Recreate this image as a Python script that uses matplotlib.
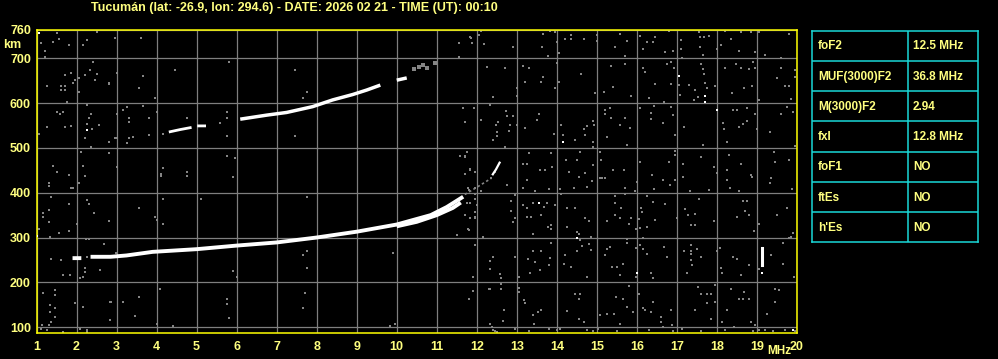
import numpy as np
import matplotlib
matplotlib.use("Agg")
import matplotlib.pyplot as plt

# ---------------- data ----------------
title_text = "Tucumán (lat: -26.9, lon: 294.6) - DATE: 2026 02 21 - TIME (UT): 00:10"
freq_ticks = list(range(1, 21))
height_ticks = [100, 200, 300, 400, 500, 600, 700]
height_top = 763.6
height_top_label = "760"
height_bottom = 87

# F2 trace (ordinary), nan = gap
o_freq = [1.9, 2.12, np.nan, 2.35, 2.85, 3.25, 3.9, 5.0, 6.0, 7.0, 8.0, 9.0, 10.0, 10.85, 11.25, 11.66]
o_height = [254, 254, np.nan, 257, 257, 260, 268, 274, 282, 289, 300, 313, 329, 350, 368, 391]
# lower (extraordinary-like) branch that thickens the trace at the top end
x_freq = [10.0, 10.5, 11.0, 11.4, 11.6]
x_height = [325, 335, 350, 366, 378]
# faint continuation above the cusp
cusp_freq = [11.7, 12.0, 12.36]
cusp_height = [396, 412, 432]
cusp_white_freq = [12.4, 12.48, 12.57]
cusp_white_height = [441, 452, 467]

# second-hop trace
hop_dot_freq = [3.0, 3.3, 3.42, 3.82]
hop_dot_height = [521, 522, 525, 528]
hop_seg_freq = [4.34, 4.6, 4.84, np.nan, 5.05, 5.2]
hop_seg_height = [536, 541, 545, np.nan, 549, 549]
hop_freq = [6.09, 6.75, 7.25, 7.9, 8.4, 8.9, 9.25, 9.59, np.nan, 10.0, 10.25]
hop_height = [564, 573, 579, 592, 607, 619, 629, 640, np.nan, 651, 656]
hop_tail_freq = [10.42, 10.55, 10.65, 10.75, 10.96]
hop_tail_height = [676, 680, 685, 679, 689]

# vertical spike near 19 MHz
spike_freq = [19.13, 19.13]
spike_height = [238, 276]

# isolated white echoes
white_freq = [17.05, 17.71, 17.71, 18.0, 14.15, 13.55, 14.5, 16.0, 19.9, 1.07, 2.27, 1.02, 19.13]
white_height = [661, 616, 603, 585, 512, 378, 298, 221, 93, 757, 540, 303, 221]

# grey noise echoes
noise_freq = [
    11.85, 12.05, 12.10, 12.17, 12.90, 13.65, 13.63, 13.77, 13.82, 13.96, 14.0, 14.05, 14.21, 14.35, 14.35,
    14.67, 15.0, 15.0, 15.46, 15.57, 15.75, 15.71, 16.07, 16.15, 16.25, 16.40, 16.46, 16.71, 16.80, 16.9,
    17.1, 17.1, 17.56, 17.57, 17.67, 17.8, 17.57, 17.65, 18.0, 18.1, 18.21, 18.35, 18.55, 18.61, 18.84,
    18.96, 19.05, 19.21, 19.8,
    12.25, 12.71, 12.4, 13.0, 13.0, 13.15, 13.3, 13.21, 13.6, 13.65, 13.96, 14.05, 14.0, 14.61, 14.96,
    15.17, 15.4, 15.36, 15.71, 15.85, 16.15, 16.21, 16.31, 16.46, 16.67, 16.75, 16.85, 16.85, 16.92, 17.05,
    17.07, 17.13, 17.3, 17.46, 17.42, 17.52, 17.6, 17.65, 17.67, 17.71, 17.74, 17.96, 18.21, 18.38, 18.48,
    18.59, 18.67, 18.8, 18.88, 18.9, 18.96, 19.05, 19.5, 19.61, 19.61, 19.71, 19.8, 19.85, 19.96, 19.96,
    11.65, 11.71, 11.92, 12.1, 12.32, 12.49, 12.52, 12.5, 12.5, 12.74, 12.75, 12.8, 12.84, 12.9, 13.0,
    12.4, 12.71, 13.21, 13.55, 13.5, 13.92, 14.1, 14.15, 14.46, 14.67, 14.71, 14.75, 14.9, 14.92, 14.9,
    14.9, 15.21, 15.21, 15.36, 15.32, 15.25, 15.57, 15.71, 15.84, 15.75, 16.09, 16.35, 16.35, 16.42, 16.65,
    16.85, 16.9, 16.96, 17.17, 17.65, 18.15, 18.17, 18.25, 18.4, 18.5, 18.55, 18.65, 18.75, 18.75, 18.96,
    19.0, 19.32, 19.61, 19.75, 19.9, 19.96,
    11.75, 11.84, 11.96, 11.71, 12.46, 13.15, 13.25, 13.3, 13.59, 13.71, 13.85, 13.88, 14.24, 14.3, 14.5,
    14.59, 14.71, 14.9, 15.09, 15.1, 15.13, 15.21, 15.4, 15.67, 16.09, 16.38, 16.8, 16.96, 16.96, 17.15,
    17.6, 17.92, 18.0, 18.25, 18.3, 18.61, 18.84, 19.42, 19.46, 19.8,
    11.77, 11.96, 12.1, 12.36, 12.75, 13.15, 13.25, 13.46, 13.8, 14.07, 14.42, 14.55, 14.75, 14.88, 15.09,
    15.21, 15.7, 15.96, 16.0, 16.42, 16.65, 16.82, 16.96, 17.15, 17.32, 17.8, 18.25, 18.32, 18.55, 18.88,
    19.34, 19.32, 19.88,
    11.75, 11.96, 11.96, 11.71, 11.77, 11.84, 11.96, 12.85, 12.85, 12.9, 12.96, 12.96, 13.15, 13.25, 13.25,
    13.35, 13.4, 13.4, 13.6, 13.67, 13.75, 13.77, 13.85, 13.85, 13.96, 14.1, 14.25, 14.25, 14.46, 14.5,
    14.55, 14.71, 14.8, 14.85, 15.25, 15.45, 15.45, 15.46, 15.59, 15.61, 15.71, 15.8, 15.85, 15.98, 16.1,
    16.13, 16.05, 16.09, 16.15, 16.25, 16.25, 16.4, 16.46, 16.7, 16.99, 17.21, 17.27, 17.34, 17.46, 17.46,
    17.55, 17.92, 18.5, 18.65, 18.75, 18.71, 18.8, 19.05, 18.92, 19.5, 19.75, 19.84, 19.9,
    11.96, 11.9, 12.15, 12.4, 12.32, 12.32, 12.57, 12.6, 12.96, 13.05, 13.27, 13.34, 13.4, 13.46, 13.6,
    13.59, 13.8, 13.82, 13.85, 14.21, 14.19, 14.35, 14.5, 14.59, 14.63, 14.75, 14.8, 14.85, 15.25, 15.21,
    15.32, 15.38, 15.5, 15.59, 15.65, 15.75, 15.99, 15.98, 16.09, 16.15, 16.24, 16.35, 16.4, 16.67, 16.75,
    17.17, 17.25, 17.34, 17.38, 17.49, 17.59, 17.99, 18.07, 18.09, 18.13, 18.4, 18.5, 18.6, 18.8, 19.05,
    19.34, 19.65, 19.65, 19.8, 19.92, 17.34, 17.34, 17.34, 15.75,
    11.9, 11.8, 12.32, 12.6, 12.6, 12.67, 12.65, 12.38, 12.4, 12.46, 12.96, 13.05, 13.05, 13.19, 13.21,
    13.4, 13.52, 13.6, 13.44, 13.8, 14.07, 14.25, 14.55, 14.59, 14.46, 14.55, 14.67, 14.75, 15.03, 15.07,
    15.25, 15.42, 15.49, 15.57, 15.65, 15.75, 15.8, 15.9, 16.05, 16.15, 16.21, 16.35, 16.4, 16.6, 16.6,
    16.65, 16.85, 16.88, 17.13, 17.46, 17.52, 17.59, 17.74, 17.84, 17.75, 17.85, 17.96, 17.96, 18.13, 18.25,
    18.34, 18.42, 18.55, 18.65, 18.8, 18.67, 18.85, 18.96, 19.05, 19.21, 19.25, 19.46, 19.55, 19.46, 19.71,
    19.96, 13.3, 14.0, 14.9, 15.5, 16.3, 16.9, 17.6, 18.2, 18.9, 19.4,
    1.1, 1.21, 1.21, 1.25, 1.4, 1.5, 1.55, 1.8, 2.15, 2.27, 2.4, 2.5, 2.96, 1.71, 1.85,
    1.9, 1.96, 2.07, 1.61, 1.71, 1.61, 1.71, 2.05, 2.21, 2.34, 2.5, 2.81, 3.0, 2.45, 1.02,
    1.75, 1.25, 1.5, 1.59, 1.65, 1.71, 1.85, 2.25, 2.32, 2.35, 2.25, 2.38, 2.56, 2.8, 2.96,
    2.21, 2.1, 2.36, 1.05, 2.8, 3.0, 1.4, 1.5, 1.8, 2.17, 2.21, 2.05, 1.92, 1.85, 1.32,
    1.32, 1.02, 1.15, 1.15, 1.3, 1.32, 1.35, 1.81, 1.82, 2.25, 2.3, 2.44, 2.8, 2.0, 1.57,
    1.05, 1.34, 2.24, 2.32, 2.69, 1.35, 1.6, 2.21, 2.21, 2.09, 2.15, 1.65, 1.84, 1.15, 1.46,
    1.46, 1.34, 1.34, 1.46, 1.46, 1.35, 1.3, 1.13, 1.11, 1.25, 1.65, 1.96, 2.15, 2.27, 2.84,
    2.84, 2.25, 2.99, 2.59,
    4.09, 4.0, 4.4, 3.46, 3.55, 3.15, 2.85, 5.75, 5.75, 5.8, 7.7, 7.65, 9.84, 9.96, 11.8,
    11.9, 12.3, 12.34, 12.38, 12.5, 2.25, 2.09, 1.65,
    4.17, 5.1, 3.56, 3.96, 4.0, 4.15, 5.9, 6.0, 7.75, 7.75, 7.75, 7.67, 9.9, 11.5, 11.71,
    11.8, 11.96, 11.96, 11.8, 11.96, 11.84, 12.0,
    2.8, 3.65, 3.57, 3.96, 3.65, 3.25, 3.15, 3.0, 3.32, 3.32, 3.8, 4.02, 4.46, 5.8, 5.75,
    5.75, 5.75, 5.59, 4.75, 4.17, 3.27, 7.46, 7.75, 7.65, 7.46, 10.42, 10.65, 10.75,
    11.55, 11.55, 11.84, 11.88, 2.17, 3.6,
    5.77, 7.46, 4.15, 4.1, 4.1, 4.75, 4.75, 5.77, 5.96, 5.9, 11.75, 11.71, 11.57, 11.82, 11.71,
]
noise_height = [
    746, 752, 761, 731, 725, 753, 724, 706, 761, 758, 737, 711, 743, 752, 743,
    743, 752, 738, 725, 755, 738, 706, 750, 721, 737, 737, 747, 713, 761, 716,
    741, 721, 758, 747, 747, 750, 725, 707, 721, 729, 761, 743, 716, 758, 758,
    713, 759, 707, 753,
    681, 679, 614, 633, 616, 683, 679, 648, 648, 657, 634, 648, 689, 664, 622,
    625, 636, 683, 686, 616, 679, 670, 612, 642, 603, 686, 692, 642, 679, 640,
    618, 701, 640, 628, 607, 614, 686, 677, 664, 644, 633, 638, 679, 622, 686,
    679, 634, 676, 639, 691, 679, 607, 655, 700, 679, 638, 638, 610, 674, 657,
    590, 558, 588, 563, 596, 551, 557, 536, 527, 582, 570, 537, 551, 570, 551,
    517, 502, 545, 575, 562, 532, 551, 529, 517, 543, 529, 549, 560, 551, 512,
    503, 584, 575, 566, 590, 524, 551, 566, 545, 506, 590, 578, 564, 593, 555,
    592, 573, 529, 547, 506, 555, 543, 514, 585, 585, 547, 554, 561, 590, 576,
    543, 535, 576, 591, 581, 505,
    491, 450, 447, 480, 447, 465, 465, 488, 450, 450, 488, 458, 473, 447, 473,
    491, 443, 462, 491, 473, 432, 432, 450, 450, 469, 439, 469, 493, 484, 465,
    480, 458, 443, 450, 485, 465, 439, 491, 469, 473,
    410, 410, 404, 433, 417, 410, 428, 404, 408, 408, 410, 436, 413, 426, 433,
    433, 410, 404, 424, 408, 428, 417, 428, 436, 404, 406, 428, 410, 404, 436,
    433, 421, 408,
    377, 386, 356, 350, 320, 344, 343, 381, 359, 334, 344, 395, 372, 365, 346,
    346, 376, 307, 350, 369, 376, 324, 320, 329, 372, 396, 365, 324, 365, 313,
    307, 344, 337, 302, 337, 393, 378, 350, 343, 365, 396, 331, 343, 319, 366,
    356, 341, 322, 298, 393, 324, 380, 339, 374, 343, 363, 350, 328, 328, 352,
    386, 337, 346, 381, 381, 359, 350, 331, 314, 350, 366, 302, 309,
    283, 212, 302, 257, 247, 230, 218, 210, 257, 212, 252, 220, 270, 246, 270,
    227, 238, 255, 287, 261, 242, 235, 270, 294, 282, 212, 285, 272, 274, 262,
    279, 235, 235, 216, 242, 287, 277, 212, 283, 274, 264, 220, 210, 279, 257,
    270, 220, 264, 238, 274, 257, 270, 277, 231, 220, 257, 253, 216, 238, 230,
    261, 240, 287, 300, 212, 283, 270, 250, 296,
    180, 163, 186, 186, 197, 138, 113, 101, 93, 91, 96, 179, 188, 160, 153,
    127, 133, 138, 108, 96, 96, 136, 118, 175, 173, 163, 112, 93, 96, 127,
    130, 130, 168, 108, 163, 145, 192, 133, 175, 142, 138, 133, 157, 123, 112,
    101, 138, 105, 96, 138, 190, 175, 175, 175, 155, 118, 194, 157, 112, 138,
    186, 101, 163, 163, 163, 179, 112, 105, 93, 93, 130, 186, 183, 157, 93,
    91, 92, 93, 91, 92, 93, 91, 92, 93, 91, 92,
    733, 715, 703, 637, 737, 756, 742, 730, 730, 741, 692, 759, 744, 663, 666,
    644, 651, 655, 637, 637, 629, 629, 625, 663, 674, 665, 644, 666, 651, 648,
    603, 546, 581, 575, 581, 547, 549, 596, 566, 575, 553, 541, 551, 514, 521,
    521, 491, 503, 532, 488, 458, 460, 447, 439, 460, 438, 421, 410, 410, 415,
    421, 380, 355, 346, 361, 335, 391, 374, 315, 383, 374, 354, 337, 331, 309,
    320, 302, 297, 297, 285, 253, 250, 231, 224, 209, 212, 216, 216, 177, 183,
    171, 149, 134, 142, 123, 112, 104, 104, 97, 93, 90, 153, 145, 90, 157,
    116, 256, 265, 227,
    186, 107, 102, 125, 168, 157, 157, 162, 151, 120, 177, 142, 102, 107, 162,
    181, 186, 107, 101, 90, 93, 97, 90,
    387, 387, 365, 346, 340, 331, 226, 211, 391, 270, 233, 261, 266, 305, 350,
    316, 346, 283, 407, 398, 376, 372,
    642, 661, 634, 612, 594, 592, 584, 575, 567, 558, 567, 579, 674, 692, 581,
    566, 527, 555, 567, 531, 510, 674, 625, 612, 527, 676, 685, 679,
    735, 703, 747, 733, 763, 744,
    526, 526, 456, 441, 438, 447, 438, 482, 478, 436, 491, 482, 482, 452, 442,
]

param_names = ["foF2", "MUF(3000)F2", "M(3000)F2", "fxI", "foF1", "ftEs", "h'Es"]
param_values = ["12.5 MHz", "36.8 MHz", "2.94", "12.8 MHz", "NO", "NO", "NO"]

# ---------------- style ----------------
BG = "black"
TXT = "#ffff80"
SPINE = "#ffff00"
GRID = "#7f7f7f"
NOISE = "#858585"
CYAN = "#1ad8d8"
FONT = "Liberation Sans"

W, H = 998, 359
fig = plt.figure(figsize=(W / 100, H / 100), dpi=100, facecolor=BG)

ax_l, ax_r, ax_t, ax_b = 36.5, 797.0, 29.7, 333.0
ax = fig.add_axes([ax_l / W, 1 - ax_b / H, (ax_r - ax_l) / W, (ax_b - ax_t) / H])
ax.set_facecolor(BG)
ax.set_xlim(freq_ticks[0], freq_ticks[-1])
ax.set_ylim(height_bottom, height_top)

ax.set_xticks(freq_ticks)
ax.set_xticklabels([str(v) for v in freq_ticks])
ax.set_yticks(height_ticks + [height_top])
ax.set_yticklabels([str(v) for v in height_ticks] + [height_top_label])
ax.tick_params(axis="both", length=0, colors=TXT, labelsize=9)
ax.tick_params(axis="x", pad=5.5)
ax.tick_params(axis="y", pad=4)
for lab in ax.get_xticklabels() + ax.get_yticklabels():
    lab.set_fontfamily(FONT)
    lab.set_fontweight("bold")
ax.grid(True, color=GRID, linewidth=0.9)
ax.set_axisbelow(True)
for sp in ax.spines.values():
    sp.set_color(SPINE)
    sp.set_linewidth(1.1)

# noise
ax.plot(noise_freq, noise_height, linestyle="none", marker="s", markersize=1.9,
        markeredgewidth=0, color=NOISE, zorder=2)

# traces
ax.plot(x_freq, x_height, color="white", linewidth=2.8, solid_capstyle="butt", zorder=3)
ax.plot(o_freq, o_height, color="white", linewidth=2.8, solid_capstyle="butt", zorder=3)
ax.plot(cusp_freq, cusp_height, color=NOISE, linewidth=1.2, linestyle=(0, (1.5, 1.5)), zorder=3)
ax.plot(cusp_white_freq, cusp_white_height, color="white", linewidth=1.6, zorder=3)
ax.plot(hop_dot_freq, hop_dot_height, linestyle="none", marker="s", markersize=1.9,
        markeredgewidth=0, color=NOISE, zorder=3)
ax.plot(hop_seg_freq, hop_seg_height, color="white", linewidth=2.0, zorder=3)
ax.plot(hop_freq, hop_height, color="white", linewidth=2.5, solid_capstyle="butt", zorder=3)
ax.plot(hop_tail_freq, hop_tail_height, linestyle="none", marker="s", markersize=2.2,
        markeredgewidth=0, color=NOISE, zorder=3)
ax.plot(spike_freq, spike_height, color="white", linewidth=2.2, zorder=3)
ax.plot(white_freq, white_height, linestyle="none", marker="s", markersize=2.0,
        markeredgewidth=0, color="white", zorder=3)

# labels
fig.text(294.5 / W, 1 - 7.5 / H, title_text, color=TXT, fontsize=9, fontweight="bold",
         family=FONT, ha="center", va="center")
fig.text(21 / W, 1 - 45.5 / H, "km", color=TXT, fontsize=9, fontweight="bold",
         family=FONT, ha="right", va="center")
fig.text(791 / W, 1 - 351 / H, "MHz", color=TXT, fontsize=8.5, fontweight="bold",
         family=FONT, ha="right", va="center")

# parameter table
t_l, t_r, t_t, t_b = 812.3, 977.7, 30.7, 242.3
tax = fig.add_axes([t_l / W, 1 - t_b / H, (t_r - t_l) / W, (t_b - t_t) / H])
tax.set_facecolor(BG)
n = len(param_names)
tax.set_xlim(0, 1)
tax.set_ylim(n, 0)
tax.set_xticks([])
tax.set_yticks([])
for sp in tax.spines.values():
    sp.set_color(CYAN)
    sp.set_linewidth(1.1)
col_split = (907.7 - t_l) / (t_r - t_l)
tax.axvline(col_split, color=CYAN, linewidth=1.1)
for i in range(1, n):
    tax.axhline(i, color=CYAN, linewidth=1.1)
for i, (name, val) in enumerate(zip(param_names, param_values)):
    tax.text(0.034, i + 0.52, name, color=TXT, fontsize=8.5, fontweight="bold",
             family=FONT, ha="left", va="center")
    tax.text(col_split + 0.032, i + 0.52, val, color=TXT, fontsize=8.5, fontweight="bold",
             family=FONT, ha="left", va="center")

fig.savefig("out.png", dpi=100, facecolor=BG)
